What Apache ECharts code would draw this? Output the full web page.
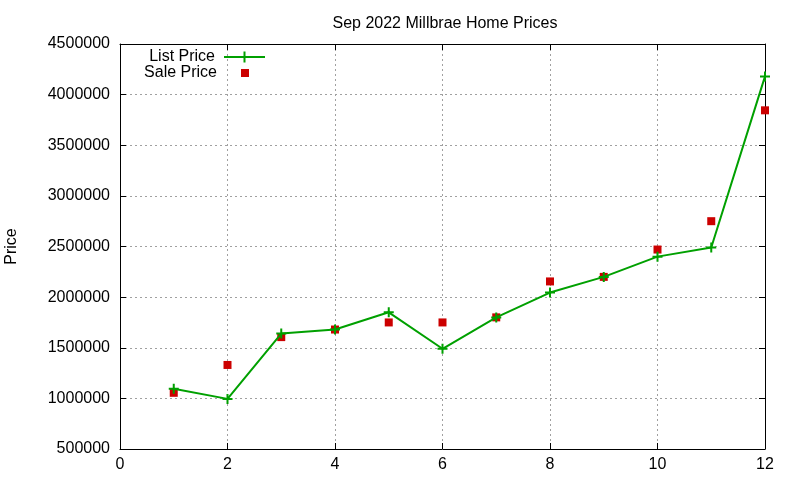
<!DOCTYPE html>
<html>
<head>
  <meta charset="utf-8">
  <script src="https://cdn.jsdelivr.net/npm/echarts@6/dist/echarts.min.js"></script>
  <style>
    html, body { margin: 0; padding: 0; background: #fff; }
  </style>
  <title>Millbrae Home Prices</title>
  <script type="text/javascript">
    // data
    const months = [1, 2, 3, 4, 5, 6, 7, 8, 9, 10, 11, 12];
    const listPrice = [1095000, 995000, 1640000, 1680000, 1850000, 1490000,
                       1800000, 2045000, 2200000, 2400000, 2490000, 4180000];
    const salePrice = [1055000, 1330000, 1605000, 1680000, 1750000, 1750000,
                       1800000, 2155000, 2200000, 2470000, 2750000, 3845000];

    const FONT = 'Liberation Sans, Arial, sans-serif';
    const GREEN = '#00a000';
    const RED = '#cc0000';

    function init() {
      var chart = echarts.init(document.getElementById('main'), null, { renderer: 'canvas' });
      var tick = { show: true, inside: true, length: 6, lineStyle: { color: '#000', width: 1 } };
      var border = { show: true, onZero: false, lineStyle: { color: '#000', width: 1 } };
      var option = {
        animation: false,
        backgroundColor: '#fff',
        textStyle: { fontFamily: FONT },
        title: {
          text: 'Sep 2022 Millbrae Home Prices',
          left: 440, top: 11, textAlign: 'center',
          textStyle: { fontFamily: FONT, fontSize: 16, fontWeight: 'normal', color: '#000' }
        },
        grid: { left: 120, right: 35, top: 44, bottom: 31, containLabel: false, outerBoundsMode: 'none' },
        legend: [
          {
            data: ['List Price'], orient: 'vertical', align: 'right',
            right: 534, top: 49, padding: 0,
            itemWidth: 41, itemHeight: 14,
            textStyle: { fontFamily: FONT, fontSize: 16, color: '#000', padding: [0, 4, 0, 0] }
          },
          {
            data: ['Sale Price'], orient: 'vertical', align: 'right',
            right: 551, top: 65, padding: 0,
            itemWidth: 8, itemHeight: 8,
            textStyle: { fontFamily: FONT, fontSize: 16, color: '#000', padding: [0, 19, 0, 0] }
          }
        ],
        xAxis: [
          {
            type: 'value', min: 0, max: 12, interval: 2,
            axisLine: border, axisTick: tick,
            axisLabel: { fontFamily: FONT, fontSize: 16, color: '#000', margin: 8 },
            splitLine: { show: true, lineStyle: { color: '#a0a0a0', type: [2, 3], width: 1 } }
          },
          {
            type: 'value', position: 'top', min: 0, max: 12, interval: 2,
            axisLine: border, axisTick: tick, axisLabel: { show: false }, splitLine: { show: false }
          }
        ],
        yAxis: [
          {
            type: 'value', min: 500000, max: 4500000, interval: 500000,
            name: 'Price', nameLocation: 'middle', nameGap: 100, nameRotate: 90,
            nameTextStyle: { fontFamily: FONT, fontSize: 16, color: '#000' },
            axisLine: border, axisTick: tick,
            axisLabel: { fontFamily: FONT, fontSize: 16, color: '#000', margin: 10,
                         formatter: function (v) { return String(v); } },
            splitLine: { show: true, lineStyle: { color: '#a0a0a0', type: [2, 3], width: 1 } }
          },
          {
            type: 'value', position: 'right', min: 500000, max: 4500000, interval: 500000,
            axisLine: border, axisTick: tick, axisLabel: { show: false }, splitLine: { show: false }
          }
        ],
        series: [
          {
            name: 'List Price',
            type: 'line',
            data: months.map(function (m, i) { return [m, listPrice[i]]; }),
            symbol: 'path://M0,5L10,5M5,0L5,10',
            symbolSize: 10,
            showAllSymbol: true,
            lineStyle: { color: GREEN, width: 2 },
            itemStyle: { color: GREEN, borderColor: GREEN, borderWidth: 2 },
            z: 3
          },
          {
            name: 'Sale Price',
            type: 'scatter',
            data: months.map(function (m, i) { return [m, salePrice[i]]; }),
            symbol: 'rect',
            symbolSize: 8,
            itemStyle: { color: RED, opacity: 1 },
            z: 2
          }
        ]
      };
      chart.setOption(option);
    }
  </script>
</head>
<body onload="init()">
  <div id="main" style="width: 800px; height: 480px;"></div>
</body>
</html>
